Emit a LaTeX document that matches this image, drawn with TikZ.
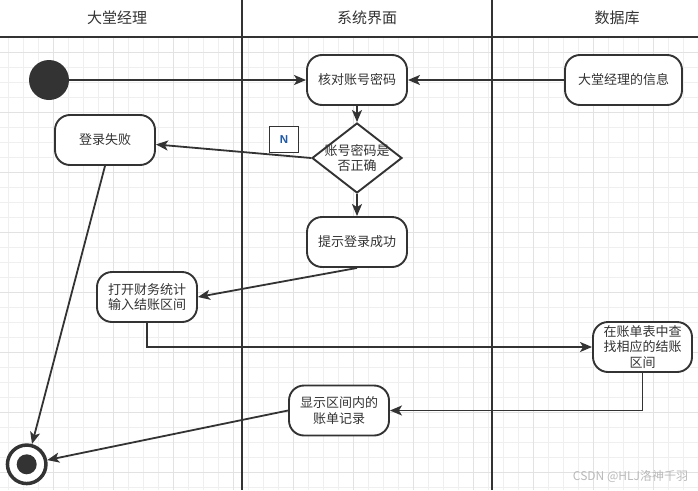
\documentclass[tikz,border=0pt]{standalone}
\usepackage{fontspec}
\setmainfont{Noto Sans CJK SC}
\newfontfamily\latinfont{Liberation Sans}
\usepackage{tikz}
\usetikzlibrary{shapes.geometric,arrows.meta}
\definecolor{ink}{HTML}{333333}
\definecolor{gridminor}{HTML}{EFEFEF}
\definecolor{gridmajor}{HTML}{E2E2E2}
\definecolor{nblue}{HTML}{1F5AA6}

\begin{document}
\begin{tikzpicture}[x=1pt,y=-1pt]
		\tikzstyle{lane-line}=[color=ink,line width=2pt]
		\tikzstyle{minor-grid}=[color=gridminor,line width=0.8pt]
		\tikzstyle{major-grid}=[color=gridmajor,line width=0.9pt]
		\tikzstyle{head-text}=[color=ink,font=\fontsize{15}{18}\selectfont]
		\tikzstyle{act-node}=[color=ink,fill=white,line width=1.9pt,draw,rounded corners=15pt,minimum width=100pt,minimum height=50pt,align=center,text=ink,font=\fontsize{13}{15.5}\selectfont,inner sep=1pt]
		\tikzstyle{judge-node}=[color=ink,fill=white,line width=1.9pt,draw,diamond,minimum width=90pt,minimum height=70pt,inner sep=0pt]
		\tikzstyle{start-node}=[circle,fill=ink,minimum size=40pt,inner sep=0pt]
		\tikzstyle{end-node}=[circle,draw=ink,fill=white,line width=3.5pt,minimum size=38.5pt,inner sep=0pt]
		\tikzstyle{guard}=[draw=ink,fill=white,line width=0.8pt,minimum width=29pt,minimum height=25.5pt,inner sep=0pt,text=nblue,font=\latinfont\bfseries\fontsize{11.5}{13}\selectfont]
		\tikzstyle{flow}=[-{Stealth[length=12pt,width=10pt,inset=3pt]},color=ink,line width=1.8pt]
		\useasboundingbox (0,0) rectangle (698,490);
		% grid
		\foreach \gx in {8.3,23.3,...,698} \draw [minor-grid] (\gx,37) -- (\gx,490);
		\foreach \gy in {37,52,...,490} \draw [minor-grid] (0,\gy) -- (698,\gy);
		\foreach \gx in {53.3,113.3,...,698} \draw [major-grid] (\gx,37) -- (\gx,490);
		\foreach \gy in {52,112,...,490} \draw [major-grid] (0,\gy) -- (698,\gy);
		% lanes
		\draw [lane-line] (0,36.5) -- (698,36.5);
		\draw [lane-line] (242,0) -- (242,490);
		\draw [lane-line] (492,0) -- (492,490);
		\node [head-text] at (117,18) (manager) {大堂经理};
		\node [head-text] at (367,18) (system) {系统界面};
		\node [head-text] at (617,18) (database) {数据库};
		% activities
		\node [start-node] at (49,80) (start) {};
		\node [act-node] at (357,80) (check) {核对账号密码};
		\node [act-node,minimum width=117pt] at (623.5,80) (info) {大堂经理的信息};
		\node [judge-node,label={[align=center,text=ink,font=\fontsize{13}{15.5}\selectfont]center:账号密码是\\否正确}] at (357,158) (judge) {};
		\node [act-node] at (105,140) (fail) {登录失败};
		\node [act-node] at (357,242) (ok) {提示登录成功};
		\node [act-node] at (147,297) (open) {打开财务统计\\输入结账区间};
		\node [act-node,minimum width=99pt] at (642.5,347) (find) {在账单表中查\\找相应的结账\\区间};
		\node [act-node] at (339,410.5) (show) {显示区间内的\\账单记录};
		\node [end-node,path picture={\fill [ink] (path picture bounding box.center) circle (10pt);}] at (26.7,464.3) (end) {};
		% flows
		\draw [flow] (start) -- (check);
		\draw [flow] (info) -- (check);
		\draw [flow] (check) -- (judge);
		\draw [flow] (judge.west) -- (fail);
		\node [guard] at (284,139.3) (no) {N};
		\draw [flow] (judge) -- (ok);
		\draw [flow] (ok.south) -- (open.east);
		\draw [flow] (open.south) |- (find);
		\draw [flow] (find.south) |- (show);
		\draw [flow] (show.west) -- (end);
		\draw [flow] (fail.south) -- (end);
		\node [color=gray!55,font=\fontsize{12}{14}\selectfont] at (630.5,476.5) (mark) {CSDN @HLJ洛神千羽};
	\end{tikzpicture}
\end{document}
